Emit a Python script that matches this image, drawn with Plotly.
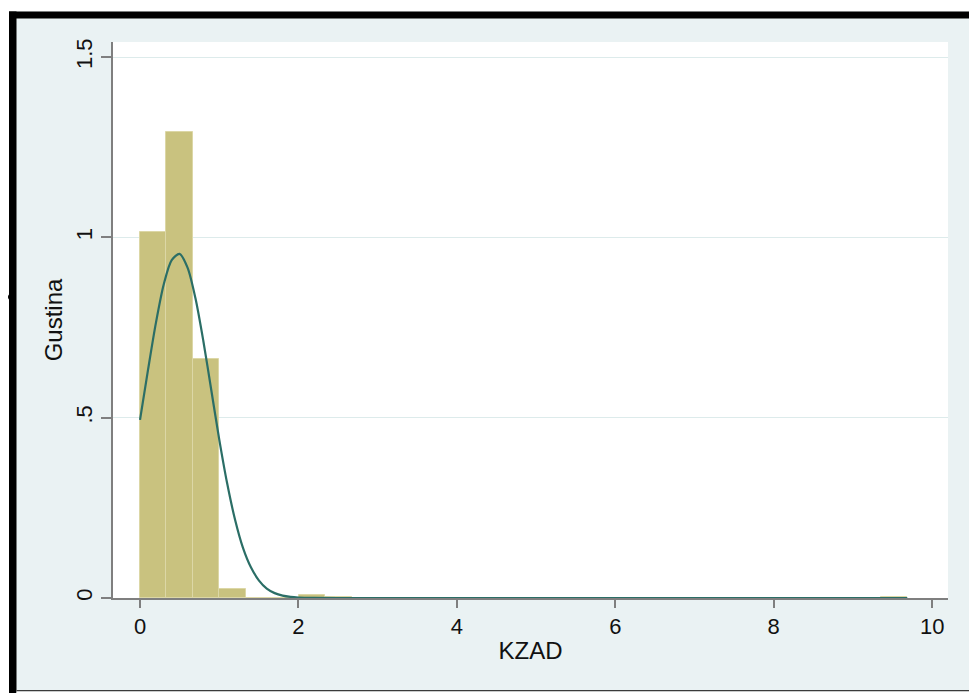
import plotly.graph_objects as go

# ---------------- data ----------------
bin_start = 0.0
bin_width = 0.334
# density per bin (29 bins from 0 to ~9.69)
density = [1.015, 1.291, 0.663, 0.024, 0.0, 0.0, 0.0075, 0.0037,
           0.0, 0.0, 0.0, 0.0, 0.0, 0.0, 0.0, 0.0, 0.0, 0.0, 0.0, 0.0,
           0.0, 0.0, 0.0, 0.0, 0.0, 0.0, 0.0, 0.0, 0.0037]

# normal density curve
curve_x = [0.0, 0.1, 0.2, 0.3, 0.4, 0.5, 0.6, 0.7, 0.8, 0.9, 1.0, 1.1, 1.2,
           1.3, 1.4, 1.5, 1.6, 1.7, 1.8, 1.9, 2.0, 2.2, 2.5, 9.686]
curve_y = [0.494, 0.631, 0.762, 0.870, 0.937, 0.954, 0.916, 0.831, 0.712,
           0.576, 0.440, 0.318, 0.217, 0.139, 0.085, 0.049, 0.026, 0.0135,
           0.0065, 0.003, 0.0013, 0.0002, 0.0, 0.0]

x_ticks = [0, 2, 4, 6, 8, 10]
y_ticks = [0, 0.5, 1, 1.5]
y_ticktext = ["0", ".5", "1", "1.5"]

x_title = "KZAD"
y_title = "Gustina"

# ---------------- figure ----------------
W, H = 969, 693
L, R, T, B = 113, 21, 42, 95
PW, PH = W - L - R, H - T - B

centers = [bin_start + bin_width * (i + 0.5) for i in range(len(density))]

fig = go.Figure()
fig.add_trace(go.Bar(
    x=centers, y=density, width=bin_width,
    marker=dict(color="#C9C27F", line=dict(color="#DCD7A6", width=1)),
    hoverinfo="skip", showlegend=False,
))
fig.add_trace(go.Scatter(
    x=curve_x, y=curve_y, mode="lines",
    line=dict(color="#2B6E66", width=2.2, shape="spline", smoothing=0.8),
    hoverinfo="skip", showlegend=False,
))

font_family = "Liberation Sans, Arial, sans-serif"

fig.update_layout(
    width=W, height=H,
    margin=dict(l=L, r=R, t=T, b=B, pad=0),
    paper_bgcolor="#EAF2F3",
    plot_bgcolor="#FFFFFF",
    bargap=0,
    font=dict(family=font_family, size=21, color="#111111"),
    xaxis=dict(
        range=[-0.341, 10.2], tickmode="array", tickvals=x_ticks,
        showgrid=False, zeroline=False,
        showline=True, linecolor="#7f7f7f", linewidth=1.5,
        ticks="outside", ticklen=8, tickwidth=1.5, tickcolor="#7f7f7f",
        tickfont=dict(size=22),
        title=dict(text=x_title, standoff=4, font=dict(size=24)),
        fixedrange=True,
    ),
    yaxis=dict(
        range=[0, 1.5416], tickmode="array", tickvals=y_ticks,
        ticktext=y_ticktext, tickangle=-90,
        showgrid=True, gridcolor="#DDEBEB", gridwidth=1.3,
        zeroline=False,
        showline=True, linecolor="#7f7f7f", linewidth=1.5,
        ticks="outside", ticklen=10, tickwidth=1.5, tickcolor="#7f7f7f",
        tickfont=dict(size=22),
        title=dict(text=y_title, standoff=3, font=dict(size=24)),
        fixedrange=True,
    ),
)


def px_x(x):
    return (x - L) / PW


def px_y(y):
    return (H - B - y) / PH


def rect(x0, y0, x1, y1, color):
    fig.add_shape(type="rect", xref="paper", yref="paper",
                  x0=px_x(x0), x1=px_x(x1), y0=px_y(y0), y1=px_y(y1),
                  fillcolor=color, line=dict(width=0), layer="above")


# outer white margin (top and left)
rect(0, 0, W, 11.5, "#FFFFFF")
rect(0, 0, 9, H, "#FFFFFF")
# black frame (top and left)
rect(9, 11.5, W, 18.5, "#000000")
rect(9, 11.5, 16.5, H, "#000000")
# thin bottom frame line
rect(16.5, 690, W, 691.5, "#3a3a3a")
rect(16.5, 691.5, W, H, "#FFFFFF")
# small dot on the left frame
fig.add_shape(type="circle", xref="paper", yref="paper",
              x0=px_x(8), x1=px_x(14), y0=px_y(294), y1=px_y(300),
              fillcolor="#000000", line=dict(width=0), layer="above")

fig.write_html("out.html", config={"displayModeBar": False})
